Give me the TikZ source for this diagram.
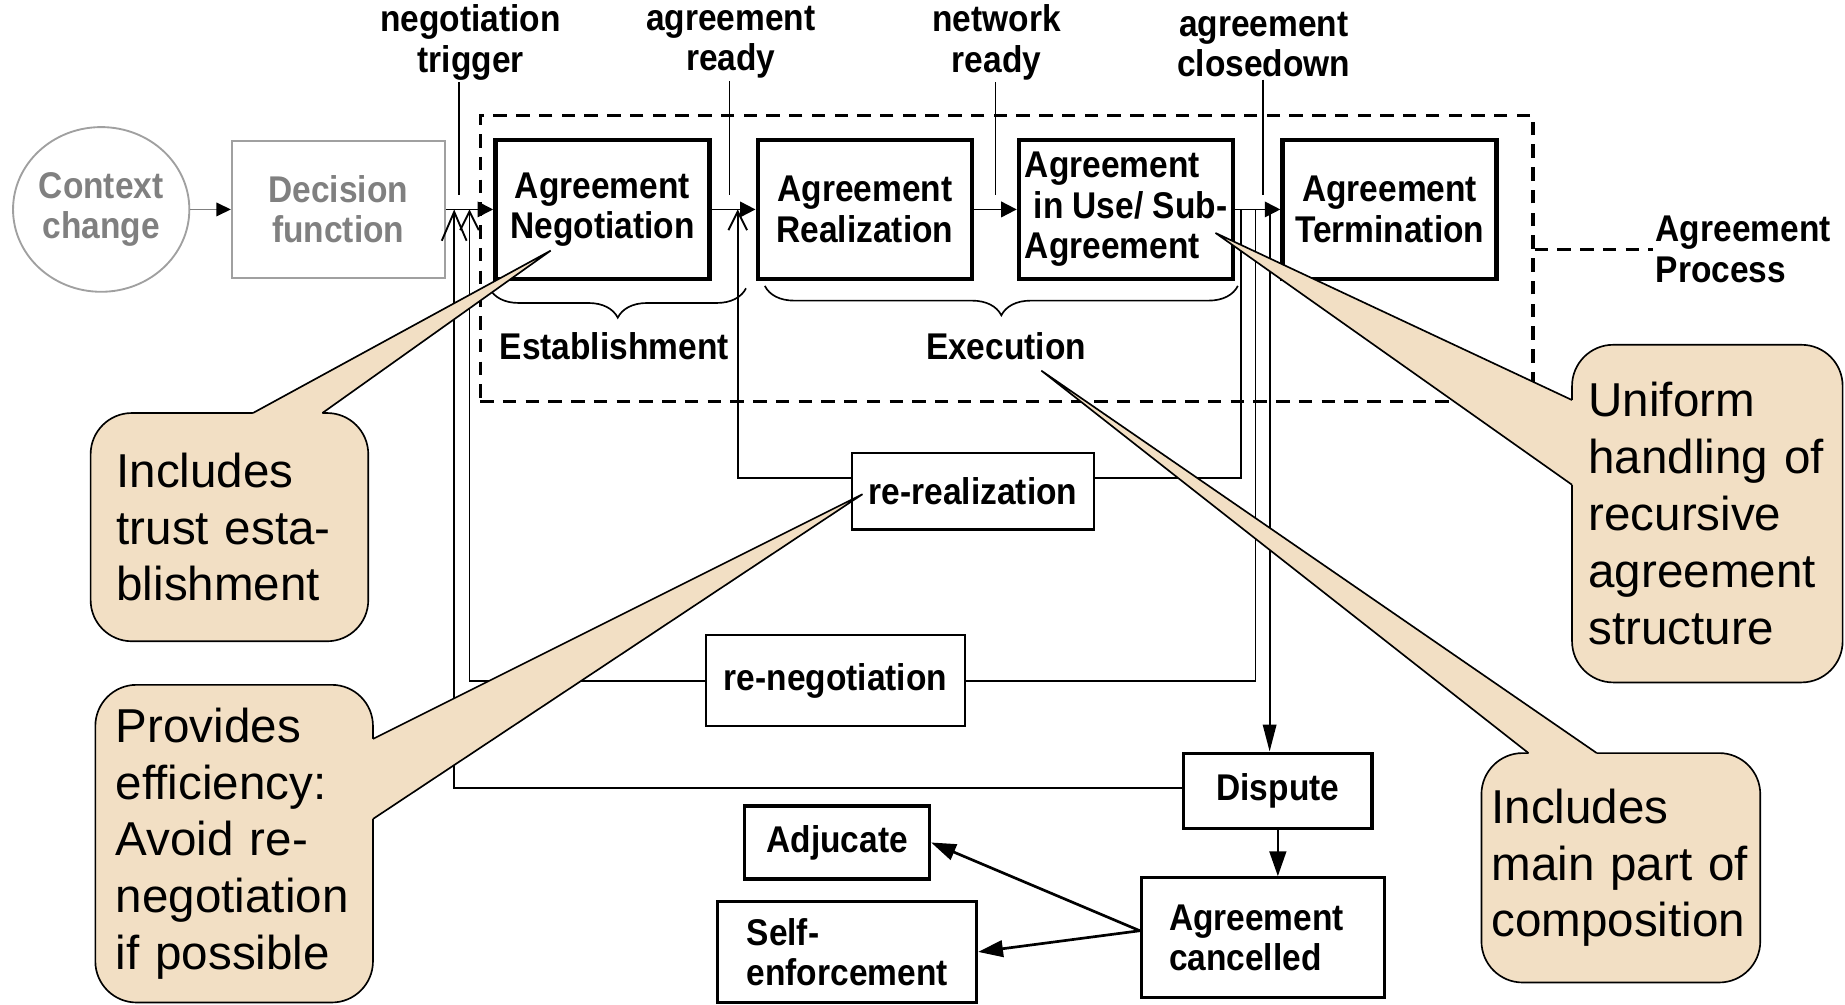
\documentclass[tikz,border=0pt]{standalone}
\usepackage{fontspec}
\setmainfont{Liberation Sans}
\newfontfamily\labelfont[FakeStretch=0.9]{Liberation Sans}
\usetikzlibrary{arrows.meta,calc,positioning,decorations.pathreplacing,shapes.geometric}
\definecolor{noteTan}{RGB}{242,223,196}
\definecolor{ghost}{RGB}{128,128,128}
\definecolor{ghostline}{RGB}{160,160,160}
\newcommand\lblfont{\labelfont\bfseries\fontsize{18}{19.5}\selectfont}
\newcommand\notefont{\fontsize{23}{27.5}\selectfont}
\tikzset{
  stage/.style   = {draw, line width=2.2pt, fill=white, minimum width=3.64cm,
                    minimum height=2.36cm, inner sep=0pt, align=center, font=\lblfont},
  grey stage/.style = {draw=ghostline, line width=0.9pt, text=ghost, minimum width=3.62cm,
                    minimum height=2.34cm, inner sep=0pt, align=center, font=\lblfont},
  retry/.style   = {draw, line width=1pt, fill=white, inner sep=0pt, font=\lblfont},
  outcome/.style = {draw, line width=1.5pt, fill=white, inner sep=0pt, align=left,
                    font=\lblfont},
  tag/.style     = {inner sep=1pt, align=center, font=\lblfont},
  note/.style    = {draw, line width=0.8pt, fill=noteTan, rounded corners=0.7cm,
                    align=left, inner ysep=0pt, font=\notefont},
  wire/.style    = {line width=0.9pt},
  flow/.style    = {wire, -{Triangle[length=7.5pt,width=7.5pt]}},
  bigflow/.style = {line width=1.3pt, -{Triangle[length=12pt,width=8pt]}},
  back/.style    = {wire, -{Straight Barb[length=9pt,width=9pt]}},
  span/.style    = {line width=0.8pt, decorate, decoration={brace,mirror,amplitude=0.5cm}},
  dashbox/.style = {draw, line width=1.6pt, dash pattern=on 6.5pt off 4.5pt},
}

\begin{document}
\begin{tikzpicture}[x=0.02cm,y=-0.02cm]
  \useasboundingbox (0,0) rectangle (1568,854);

  % agreement process frame
  \node[dashbox, minimum width=17.9cm, minimum height=4.86cm] (frame) at (855.5,219.5) {};
  \node[tag, align=left, anchor=west] (proc) at (1405,212) {Agreement\\Process};
  \draw[line width=1.2pt, dash pattern=on 6.5pt off 4.5pt] (frame.east |- proc.west) -- (proc.west);

  % main chain
  \node[grey stage, ellipse, minimum width=2.96cm, minimum height=2.8cm] (ctx) at (86,178) {Context\\change};
  \node[grey stage] (dec) at (287.5,178) {Decision\\function};
  \node[stage] (neg) at (512,178) {Agreement\\Negotiation};
  \node[stage] (rea) at (735,178) {Agreement\\Realization};
  \node[stage, align=left] (use) at (957,178) {Agreement\\\hspace*{0.15cm}in Use/ Sub-\\Agreement};
  \node[stage] (ter) at (1181,178) {Agreement\\Termination};

  \draw[wire, ghost, -{Triangle[length=7pt,width=6.5pt,black]}] (ctx) -- (dec);
  \draw[flow] (dec) -- (neg);
  \draw[flow] (neg) -- (rea);
  \draw[flow] (rea) -- (use);
  \draw[flow] (use) -- (ter);

  % events
  \node[tag] (trig) at (400,36) {negotiation\\trigger};
  \node[tag] (aready) at (621,36) {agreement\\ready};
  \node[tag] (nready) at (847,36) {network\\ready};
  \node[tag] (close) at (1074,38) {agreement\\closedown};
  \coordinate (trigIn) at (390,166);
  \coordinate (areadyIn) at (620,166);
  \coordinate (nreadyIn) at (846,166);
  \coordinate (closeIn) at (1073,166);
  \draw[wire] (trig.south -| trigIn) -- (trigIn);
  \draw[wire] (aready.south -| areadyIn) -- (areadyIn);
  \draw[wire] (nready.south -| nreadyIn) -- (nreadyIn);
  \draw[wire] (close.south -| closeIn) -- (closeIn);

  % phases
  \draw[span] (416,245) -- (634,245);
  \draw[span] (650,243) -- (1052,243);
  \node[tag] (estab) at (522,294) {Establishment};
  \node[tag] (exec) at (855,294) {Execution};

  % loops back
  \node[retry, minimum width=4.12cm, minimum height=1.3cm] (rereal) at (827,417.5) {re-realization};
  \node[retry, minimum width=4.4cm, minimum height=1.54cm] (reneg) at (710,578.5) {re-negotiation};
  \node[outcome, align=center, minimum width=3.2cm, minimum height=1.28cm] (disp) at (1086,672) {Dispute};
  \node[outcome, text width=3.2cm, minimum width=4.14cm, minimum height=2.04cm] (canc) at (1073.5,797) {Agreement\\cancelled};
  \node[outcome, align=center, minimum width=3.14cm, minimum height=1.24cm] (adj) at (711.5,716) {Adjucate};
  \node[outcome, minimum width=4.4cm, minimum height=1.72cm] (self) at (720,809) {Self-\\enforcement};

  \coordinate (tap1) at (1055,178);
  \coordinate (tap2) at (1067,178);
  \coordinate (tap3) at (1079,178);
  \coordinate (in1) at (627,178);
  \coordinate (in2) at (399,178);
  \coordinate (in3) at (386,178);

  \draw[wire] (tap1) |- ($(rereal.east)+(0,-11)$);
  \draw[back] ($(rereal.west)+(0,-11)$) -| (in1);
  \draw[wire] (tap2) |- (reneg.east);
  \draw[back] (reneg.west) -| (in2);
  \draw[wire, -{Triangle[length=13pt,width=6.5pt]}] (tap3) -- (tap3 |- disp.north);
  \draw[wire, -{Straight Barb[length=14pt,width=12pt]}] ($(disp.west)+(0,-2)$) -| (in3);
  \draw[bigflow] (disp.south) -- (disp.south |- canc.north);
  \draw[bigflow] ($(canc.west)+(0,-6)$) -- (adj.east);
  \draw[bigflow] ($(canc.west)+(0,-6)$) -- (self.east);

  % remarks
  \node[note, minimum width=4.72cm, minimum height=3.88cm, text width=3.84cm, inner xsep=0.44cm]
    (note1) at (195,448) {Includes\\trust esta-\\blishment};
  \coordinate (tip1) at (468,213);
  \fill[noteTan] (215,360) -- (215,351) -- (tip1) -- (274,351) -- (274,360) -- cycle;
  \draw[line width=0.8pt] (215,351) -- (tip1) -- (274,351);

  \node[note, minimum width=4.72cm, minimum height=5.4cm, text width=4.02cm, inner xsep=0.35cm]
    (note2) at (199,717) {Provides\\efficiency:\\Avoid re-\\negotiation\\if possible};
  \coordinate (tip2) at (733,420);
  \fill[noteTan] (308,628) -- (317,628) -- (tip2) -- (317,696) -- (308,696) -- cycle;
  \draw[line width=0.8pt] (317,628) -- (tip2) -- (317,696);

  \node[note, minimum width=4.6cm, minimum height=5.74cm, text width=4.04cm, inner xsep=0.28cm]
    (note3) at (1451,436.5) {Uniform\\handling of\\recursive\\agreement\\structure};
  \coordinate (tip3) at (1033,198);
  \fill[noteTan] (1345,340) -- (1336,340) -- (tip3) -- (1336,412) -- (1345,412) -- cycle;
  \draw[line width=0.8pt] (1336,340) -- (tip3) -- (1336,412);

  \node[note, minimum width=4.74cm, minimum height=3.9cm, text width=4.4cm, inner xsep=0.17cm]
    (note4) at (1377.5,737.5) {Includes\\main part of\\composition};
  \coordinate (tip4) at (885,315);
  \fill[noteTan] (1299,649) -- (1299,640) -- (tip4) -- (1357,640) -- (1357,649) -- cycle;
  \draw[line width=0.8pt] (1299,640) -- (tip4) -- (1357,640);
\end{tikzpicture}
\end{document}
